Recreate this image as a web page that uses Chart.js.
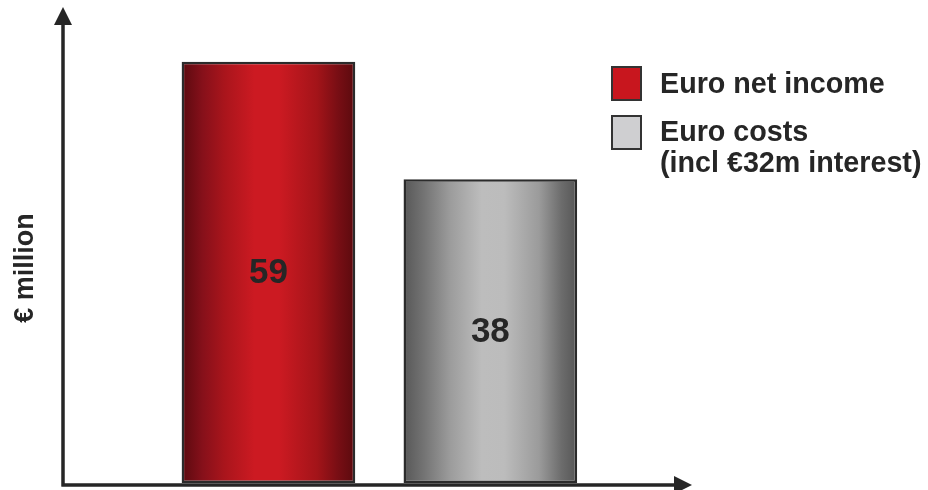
<!DOCTYPE html>
<html>
<head>
<meta charset="utf-8">
<script src="https://cdn.jsdelivr.net/npm/chart.js@4.4.1/dist/chart.umd.min.js"></script>
<style>
  html, body { margin: 0; padding: 0; background: #fff; }
  #wrap { width: 928px; height: 490px; position: relative; }
</style>
</head>
<body>
<div id="wrap"><canvas id="euroChart"></canvas></div>
<script>
// Données du graphique
const categories = ['Euro net income', 'Euro costs'];
const legendLines = [['Euro net income'], ['Euro costs', '(incl €32m interest)']];
const values = [59, 38];
const axisTitle = '€ million';

// Bas de l'axe (les barres partent du bas du graphique)
const AXIS_MIN = -16.2;
const AXIS_MAX = 70;

const FONT = '"Liberation Sans", Arial, sans-serif';
const TEXT = '#262626';

// Dégradés horizontaux des barres (effet cylindre)
const stops = [
  [[0, '#5a0a0f'], [0.12, '#86101a'], [0.25, '#aa151c'], [0.42, '#cc1a22'], [0.56, '#cc1a22'], [0.78, '#a31419'], [0.9, '#780e14'], [1, '#5a0a0e']],
  [[0, '#575757'], [0.12, '#747474'], [0.27, '#9c9c9c'], [0.45, '#bdbdbd'], [0.58, '#bcbcbc'], [0.78, '#9b9b9b'], [0.91, '#6c6c6c'], [1, '#565656']]
];
const fallback = ['#b0161d', '#a8a8a8'];
const legendColors = ['#c8161e', '#cfcfd1'];

function barGradient(context) {
  const chart = context.chart;
  const xs = chart.scales.x;
  const i = context.dataIndex;
  if (!xs || i === undefined || !chart.chartArea) return fallback[i || 0];
  const center = xs.getPixelForValue(i);
  const half = (xs.width / categories.length) * 0.7826 / 2;
  if (!isFinite(center) || !isFinite(half) || half <= 0) return fallback[i];
  const g = chart.ctx.createLinearGradient(center - half, 0, center + half, 0);
  stops[i].forEach(s => g.addColorStop(s[0], s[1]));
  return g;
}

// Axes avec flèches, valeurs, légende et titre de l'axe
const decorations = {
  id: 'decorations',
  afterDatasetsDraw(chart) {
    const ctx = chart.ctx;
    ctx.save();

    // valeurs au centre des barres
    const meta = chart.getDatasetMeta(0);
    ctx.fillStyle = TEXT;
    ctx.font = 'bold 35px ' + FONT;
    ctx.textAlign = 'center';
    ctx.textBaseline = 'middle';
    meta.data.forEach((bar, i) => {
      const mid = (bar.y + bar.base) / 2;
      ctx.fillText(String(values[i]), bar.x, mid + 1);
    });

    // axes
    ctx.strokeStyle = '#262626';
    ctx.fillStyle = '#262626';
    ctx.lineWidth = 3.5;
    ctx.beginPath();
    ctx.moveTo(63, 22);
    ctx.lineTo(63, 486.5);
    ctx.moveTo(61.5, 485);
    ctx.lineTo(678, 485);
    ctx.stroke();
    ctx.beginPath();
    ctx.moveTo(63, 7);
    ctx.lineTo(54, 25);
    ctx.lineTo(72, 25);
    ctx.closePath();
    ctx.fill();
    ctx.beginPath();
    ctx.moveTo(692, 485);
    ctx.lineTo(674, 476);
    ctx.lineTo(674, 494);
    ctx.closePath();
    ctx.fill();

    // légende
    const boxes = [67, 116];
    const baselines = [[93], [141, 172]];
    ctx.lineWidth = 2;
    ctx.strokeStyle = '#333';
    ctx.font = 'bold 28.7px ' + FONT;
    ctx.textAlign = 'left';
    ctx.textBaseline = 'alphabetic';
    legendLines.forEach((lines, i) => {
      ctx.fillStyle = legendColors[i];
      ctx.fillRect(612, boxes[i], 29, 33);
      ctx.strokeRect(612, boxes[i], 29, 33);
      ctx.fillStyle = TEXT;
      lines.forEach((line, j) => ctx.fillText(line, 660, baselines[i][j]));
    });

    // titre de l'axe vertical
    ctx.translate(33, 268);
    ctx.rotate(-Math.PI / 2);
    ctx.font = 'bold 27px ' + FONT;
    ctx.textAlign = 'center';
    ctx.fillText(axisTitle, 0, 0);

    ctx.restore();
  }
};

const ctx = document.getElementById('euroChart').getContext('2d');
const euroChart = new Chart(ctx, {
  type: 'bar',
  data: {
    labels: categories,
    datasets: [{
      data: values.map(v => [AXIS_MIN, v]),
      backgroundColor: barGradient,
      borderColor: '#2b2b2b',
      borderWidth: 2.5,
      borderSkipped: false,
      barPercentage: 0.7826,
      categoryPercentage: 1
    }]
  },
  options: {
    responsive: true,
    maintainAspectRatio: false,
    animation: false,
    layout: { padding: { left: 157.5, right: 326.7, top: 0, bottom: 7 } },
    plugins: {
      legend: { display: false },
      tooltip: { enabled: false }
    },
    scales: {
      x: { display: false },
      y: { display: false, min: AXIS_MIN, max: AXIS_MAX }
    }
  },
  plugins: [decorations]
});
</script>
</body>
</html>
